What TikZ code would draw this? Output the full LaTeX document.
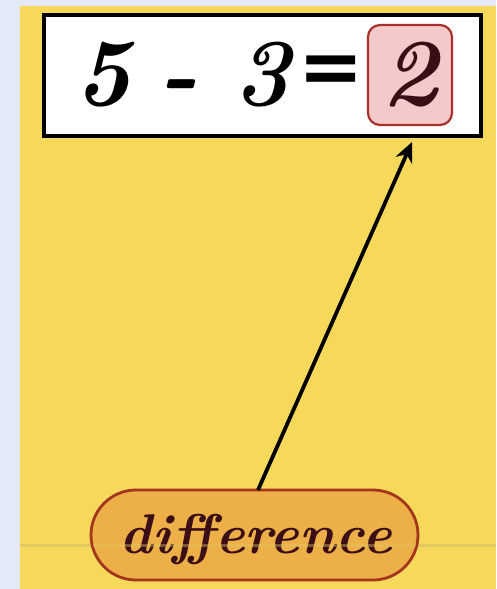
\documentclass[tikz,border=0pt]{standalone}
\usepackage{fontspec}
\newfontfamily\eqfont{DejaVu Sans}
\usetikzlibrary{arrows.meta}
\definecolor{bgblue}{HTML}{E3E9F6}
\definecolor{panel}{HTML}{F6D85A}
\definecolor{pillfill}{HTML}{EDB049}
\definecolor{pillline}{HTML}{A3361C}
\definecolor{pinkfill}{HTML}{F3C9C9}
\definecolor{pinkline}{HTML}{A8302E}
\definecolor{darktext}{HTML}{3A0E14}
\definecolor{faint}{HTML}{E2C860}
\tikzset{
  eqbox/.style={draw=black, line width=3.5pt, fill=white},
  ansbox/.style={draw=pinkline, line width=2.2pt, fill=pinkfill, rounded corners=12pt, minimum width=84pt, minimum height=100pt, inner sep=0pt},
  pill/.style={draw=pillline, line width=2.8pt, fill=pillfill, rounded corners=45pt, minimum width=327pt, minimum height=90pt, inner sep=0pt},
  conn/.style={line width=3.8pt, -{Stealth[length=20pt,width=18pt]}},
  big/.style={anchor=base, font=\fontsize{96}{96}\selectfont\bfseries\itshape}
}
\begin{document}
\begin{tikzpicture}[x=1pt,y=-1pt]
\useasboundingbox (0,0) rectangle (496,589);
\fill[bgblue] (0,0) rectangle (496,589);
\fill[panel] (20,6) rectangle (496,589);
\draw[faint, line width=3pt] (20,545) -- (496,545);
\draw[eqbox] (44,15) rectangle (481,136);
\node[ansbox] (ans) at (410,75) {};
\node[big] (five) at (103,105) {5};
\node[big] (minus) at (178,105) {-};
\node[big] (three) at (262,105) {3};
\node[anchor=center, font=\fontsize{78}{78}\selectfont\eqfont\bfseries] (eq) at (331,75) {=};
\node[big, text=darktext] (two) at (410,105) {2};
\node[pill] (diff) at (254.5,535) {};
\node[anchor=base, text=darktext, font=\fontsize{56}{56}\selectfont\bfseries\itshape] (difftext) at (256,553) {difference};
\draw[faint, opacity=0.4, line width=3pt] (93,545) -- (416,545);
\draw[conn] (258,490) -- (412,142);
\end{tikzpicture}
\end{document}
